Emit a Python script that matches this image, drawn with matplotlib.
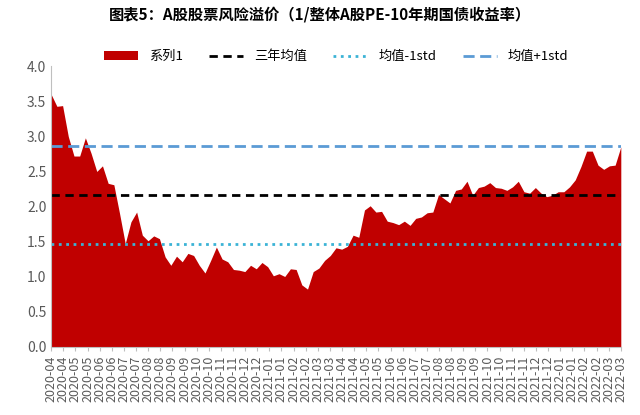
import numpy as np
import matplotlib.pyplot as plt

plt.rcParams['font.family'] = ['Noto Sans CJK SC', 'DejaVu Sans']

values = [3.60, 3.43, 3.44, 3.00, 2.72, 2.72, 2.98, 2.76, 2.50, 2.58, 2.33, 2.31,
          1.90, 1.47, 1.78, 1.92, 1.59, 1.51, 1.58, 1.54, 1.28, 1.16, 1.29, 1.21,
          1.33, 1.30, 1.16, 1.05, 1.23, 1.42, 1.25, 1.21, 1.10, 1.09, 1.07, 1.16,
          1.11, 1.20, 1.14, 1.01, 1.04, 1.00, 1.11, 1.10, 0.88, 0.82, 1.07, 1.12,
          1.23, 1.30, 1.41, 1.39, 1.43, 1.59, 1.56, 1.95, 2.01, 1.92, 1.93, 1.79,
          1.77, 1.74, 1.79, 1.73, 1.83, 1.85, 1.91, 1.92, 2.17, 2.11, 2.05, 2.23,
          2.25, 2.36, 2.16, 2.27, 2.29, 2.34, 2.27, 2.26, 2.23, 2.28, 2.36, 2.21,
          2.19, 2.27, 2.19, 2.14, 2.16, 2.21, 2.21, 2.28, 2.38, 2.57, 2.79, 2.79,
          2.59, 2.53, 2.58, 2.59, 2.85]
mean3y = 2.17
lower = 1.46
upper = 2.87

months = ["2020-%02d" % m for m in range(4, 13)] + ["2021-%02d" % m for m in range(1, 13)] \
    + ["2022-%02d" % m for m in range(1, 4)]
labels = [m for m in months for _ in range(2)]

x = np.arange(len(values))
fig, ax = plt.subplots(figsize=(6.4, 4.15), dpi=100)
ax.fill_between(x, values, color='#C00000', lw=0, label='系列1')
ax.axhline(mean3y, color='black', ls=(0, (3, 2)), lw=2, label='三年均值')
ax.axhline(lower, color='#3BB3D6', ls=':', lw=2, label='均值-1std')
ax.axhline(upper, color='#5B9BD5', ls=(0, (4, 2)), lw=2, label='均值+1std')

ticks = np.linspace(0, len(values) - 1, len(labels))
ax.set_xticks(ticks)
ax.set_xticklabels(labels, rotation=90, fontsize=9, color='#595959')
ax.set_xlim(0, len(values) - 1)
ax.set_ylim(0, 4.0)
ax.set_yticks(np.arange(0, 4.01, 0.5))
ax.set_yticklabels(["%.1f" % v for v in np.arange(0, 4.01, 0.5)], fontsize=10, color='#595959')
for s in ['top', 'right']:
    ax.spines[s].set_visible(False)
ax.spines['left'].set_color('#BFBFBF')
ax.spines['bottom'].set_color('#BFBFBF')
ax.tick_params(axis='x', length=3, color='#BFBFBF')
ax.tick_params(axis='y', length=0)

fig.suptitle('图表5：A股股票风险溢价（1/整体A股PE-10年期国债收益率）', fontsize=11,
             fontweight='bold', y=0.985)
ax.legend(loc='upper center', bbox_to_anchor=(0.5, 1.1), ncol=4, frameon=False,
          fontsize=9.5, handlelength=2.6, columnspacing=2)
plt.subplots_adjust(left=0.08, right=0.97, top=0.84, bottom=0.165)
plt.savefig('out.png')
